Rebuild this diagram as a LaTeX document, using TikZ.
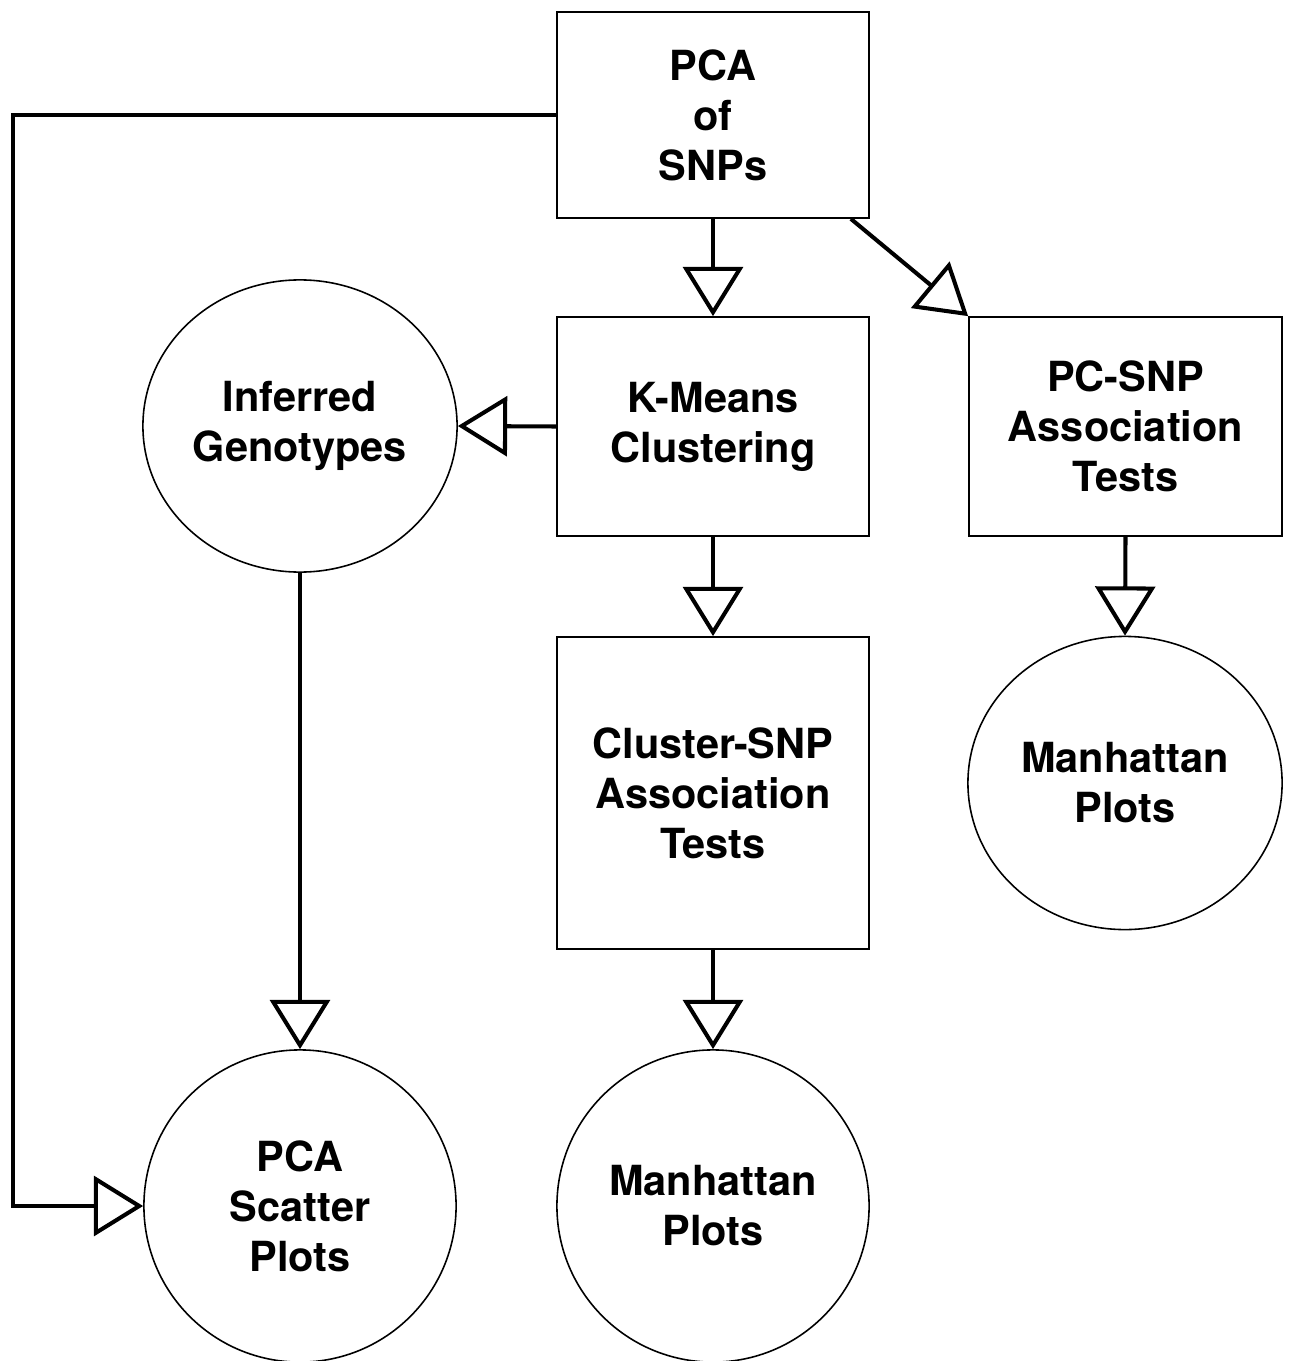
\documentclass[tikz,border=0pt]{standalone}
\usepackage{fontspec}
\setmainfont{TeX Gyre Heros}
\usetikzlibrary{
  arrows.meta,
  shapes.geometric}

\begin{document}
\begin{tikzpicture}[x=0.01cm,y=-0.01cm,
  box/.style={draw,line width=0.45pt,rectangle,inner sep=0pt,align=center,
    font=\fontsize{11.8}{14.2}\selectfont\bfseries},
  blob/.style={draw,line width=0.45pt,ellipse,inner sep=0pt,align=center,
    font=\fontsize{11.8}{14.2}\selectfont\bfseries},
  link/.style={line width=1.15pt,-{Triangle[open,length=14pt,width=17pt]}}]
\useasboundingbox (0,0) rectangle (1288,1361);

\node[box,minimum width=3.12cm,minimum height=2.06cm] (pca) at (713,115) {PCA\\of\\SNPs};
\node[box,minimum width=3.12cm,minimum height=2.19cm] (kmeans) at (713,426.5) {K-Means\\Clustering};
\node[box,minimum width=3.13cm,minimum height=2.19cm] (pcsnp) at (1125.5,426.5) {PC-SNP\\Association\\Tests};
\node[box,minimum width=3.12cm,minimum height=3.12cm] (cluster) at (713,793) {Cluster-SNP\\Association\\Tests};

\node[blob,minimum width=3.14cm,minimum height=2.92cm] (infer) at (300,426) {Inferred\\Genotypes};
\node[blob,minimum width=3.14cm,minimum height=2.93cm] (manR) at (1125,783) {Manhattan\\Plots};
\node[blob,minimum width=3.12cm,minimum height=3.12cm] (scatter) at (300,1206) {PCA\\Scatter\\Plots};
\node[blob,minimum width=3.12cm,minimum height=3.12cm] (manM) at (713,1206) {Manhattan\\Plots};

\coordinate (bend) at (13,115);

\draw[link] (pca.south) -- (kmeans.north);
\draw[link] ([xshift=-0.19cm]pca.south east) -- (pcsnp.north west);
\draw[link] (kmeans.west) -- (infer.east);
\draw[link] (kmeans.south) -- (cluster.north);
\draw[link] (pcsnp.south) -- (manR.north);
\draw[link] (infer.south) -- (scatter.north);
\draw[link] (cluster.south) -- (manM.north);
\draw[link] (pca.west) -- (bend) |- (scatter.west);
\end{tikzpicture}
\end{document}
